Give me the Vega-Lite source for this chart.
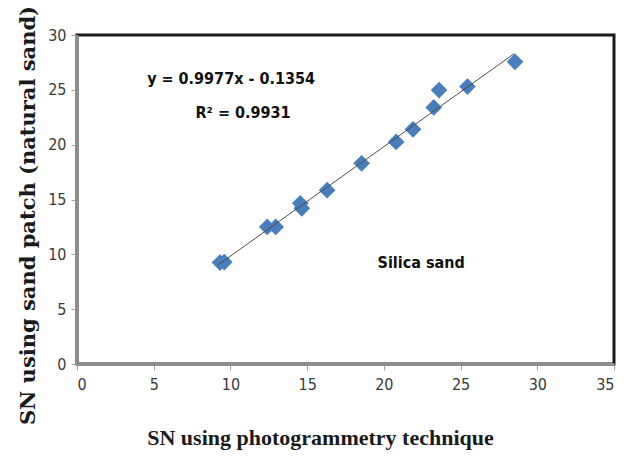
{
  "$schema": "https://vega.github.io/schema/vega-lite/v6.json",
  "width": 537,
  "height": 329,
  "autosize": "none",
  "padding": {"left": 77, "top": 35, "right": 19, "bottom": 95},
  "background": "white",
  "config": {
    "view": {"stroke": "#1a1a1a", "strokeWidth": 3},
    "axis": {
      "grid": false,
      "domainColor": "#8c8c8c",
      "domainWidth": 3,
      "tickColor": "#a0a0a0",
      "tickSize": 6,
      "tickWidth": 1,
      "labelFont": "DejaVu Sans Condensed",
      "labelFontSize": 16,
      "labelColor": "#3a3a3a",
      "titleFont": "Liberation Serif",
      "titleFontWeight": "bold",
      "titleColor": "#1a1a1a"
    }
  },
  "datasets": {
    "points": [
      {"x": 9.32, "y": 9.25},
      {"x": 9.6, "y": 9.3},
      {"x": 12.4, "y": 12.5},
      {"x": 12.95, "y": 12.5},
      {"x": 14.55, "y": 14.65},
      {"x": 14.65, "y": 14.2},
      {"x": 16.3, "y": 15.85},
      {"x": 18.55, "y": 18.3},
      {"x": 20.8, "y": 20.25},
      {"x": 21.9, "y": 21.4},
      {"x": 23.25, "y": 23.4},
      {"x": 23.6, "y": 24.98},
      {"x": 25.45, "y": 25.3},
      {"x": 28.55, "y": 27.55}
    ],
    "trend": [
      {"x": 9.2, "y": 9.04},
      {"x": 28.5, "y": 28.3}
    ],
    "notes": [
      {"x": 10.04, "y": 25.98, "label": "y = 0.9977x - 0.1354"},
      {"x": 10.82, "y": 22.88, "label": "R² = 0.9931"},
      {"x": 22.43, "y": 9.2, "label": "Silica sand"}
    ]
  },
  "layer": [
    {
      "data": {"name": "points"},
      "mark": {"type": "point", "shape": "diamond", "filled": true, "size": 280, "color": "#4a7ebb", "opacity": 1},
      "encoding": {
        "x": {
          "field": "x", "type": "quantitative",
          "scale": {"domain": [0, 35], "nice": false},
          "axis": {
            "values": [0, 5, 10, 15, 20, 25, 30, 35],
            "title": "SN using photogrammetry technique",
            "titleFontSize": 22,
            "titleX": 243,
            "titleY": 73,
            "titleBaseline": "middle",
            "titleAnchor": null,
            "labelPadding": 6
          }
        },
        "y": {
          "field": "y", "type": "quantitative",
          "scale": {"domain": [0, 30], "nice": false},
          "axis": {
            "values": [0, 5, 10, 15, 20, 25, 30],
            "title": "SN using sand patch (natural sand)",
            "titleFont": "DejaVu Serif",
            "titleFontSize": 21,
            "titleX": -49,
            "titleY": 180,
            "titleAngle": -90,
            "titleBaseline": "middle",
            "titleAlign": "center",
            "labelPadding": 5
          }
        }
      }
    },
    {
      "data": {"name": "trend"},
      "mark": {"type": "line", "color": "#4d4d4d", "strokeWidth": 1},
      "encoding": {
        "x": {"field": "x", "type": "quantitative"},
        "y": {"field": "y", "type": "quantitative"}
      }
    },
    {
      "data": {"name": "notes"},
      "mark": {"type": "text", "font": "DejaVu Sans Condensed", "fontWeight": "bold", "fontSize": 16, "color": "#111111", "align": "center", "baseline": "middle"},
      "encoding": {
        "x": {"field": "x", "type": "quantitative"},
        "y": {"field": "y", "type": "quantitative"},
        "text": {"field": "label"}
      }
    }
  ]
}
